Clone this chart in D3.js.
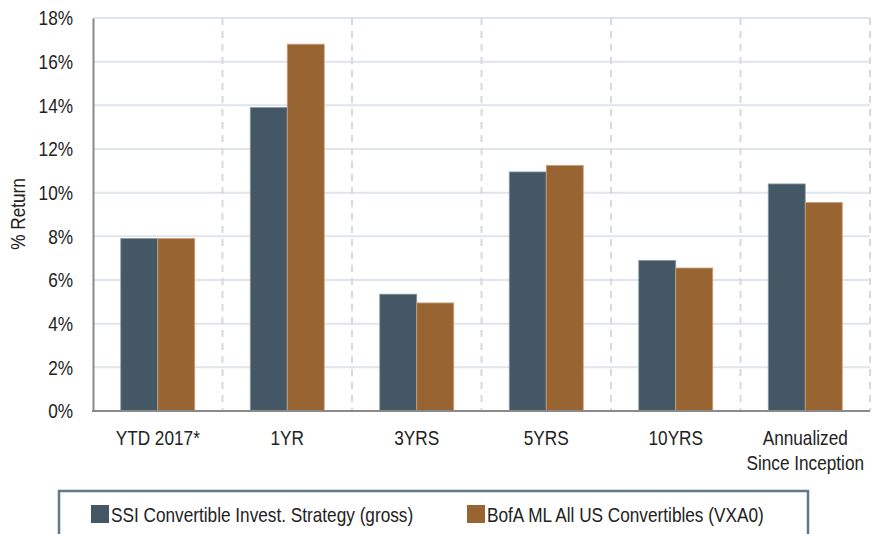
<!DOCTYPE html>
<html><head><meta charset="utf-8">
<script src="https://cdn.jsdelivr.net/npm/d3@7"></script>
<style>
body{margin:0;background:#fff;}
text{font-family:"Liberation Sans Narrow","Arial Narrow","Liberation Sans",sans-serif;fill:#222;}
</style></head>
<body>
<svg id="c" width="876" height="534"></svg>
<script>
const categories = [["YTD 2017*"],["1YR"],["3YRS"],["5YRS"],["10YRS"],["Annualized","Since Inception"]];
const seriesNames = ["SSI Convertible Invest. Strategy (gross)","BofA ML All US Convertibles (VXA0)"];
const ssiValues = [7.9, 13.9, 5.35, 10.95, 6.9, 10.4];
const bofaValues = [7.9, 16.8, 4.95, 11.25, 6.55, 9.55];
const yTicks = [0,2,4,6,8,10,12,14,16,18];
const colors = ["#435764","#986532"];

const SX = 0.82, FS = "21px";
const svg = d3.select("#c");
const m = {l:93, t:18, r:870, b:411};
const x = d3.scaleBand().domain(d3.range(categories.length)).range([m.l, m.r]).paddingInner(0).paddingOuter(0);
const y = d3.scaleLinear().domain([0,18]).range([m.b, m.t]);
const x1 = d3.scaleBand().domain([0,1]).range([0, x.bandwidth()]).paddingInner(0).paddingOuter(0.75);

function ntext(parent, px, py, anchor){
  return parent.append("g").attr("transform",`translate(${px},${py}) scale(${SX},1)`)
    .append("text").attr("text-anchor",anchor||"start").style("font-size",FS);
}

// gridlines
svg.append("g").selectAll("line").data(yTicks.slice(1)).join("line")
  .attr("x1", m.l).attr("x2", m.r).attr("y1", d=>y(d)).attr("y2", d=>y(d))
  .attr("stroke","#dfe5ea").attr("stroke-width",2);

// dashed separators
svg.append("g").selectAll("line").data(d3.range(1, categories.length+1)).join("line")
  .attr("x1", d=>x(0)+d*x.bandwidth()).attr("x2", d=>x(0)+d*x.bandwidth())
  .attr("y1", m.t).attr("y2", m.b)
  .attr("stroke","#d9d9d9").attr("stroke-width",2).attr("stroke-dasharray","7,6");

// bars
const series = [ssiValues, bofaValues];
series.forEach((vals, si) => {
  svg.append("g").selectAll("rect").data(vals).join("rect")
    .attr("x", (d,i)=>x(i)+x1(si))
    .attr("width", x1.bandwidth())
    .attr("y", d=>y(d))
    .attr("height", d=>y(0)-y(d))
    .attr("fill", colors[si])
    .attr("stroke", si===0 ? "#8d9ba5" : "#c9a27c").attr("stroke-width",0.8);
});

// axes
const yAxis = d3.axisLeft(y).tickValues(yTicks).tickFormat(d=>d+"%").tickSize(0).tickPadding(20/SX);
const gy = svg.append("g").attr("transform",`translate(${m.l},0)`).call(yAxis);
gy.select(".domain").attr("stroke","#8a8a8a").attr("stroke-width",2);
gy.selectAll("text").style("font-size",FS).attr("fill","#222")
  .attr("transform",`scale(${SX},1)`);

svg.append("line").attr("x1",m.l-1).attr("x2",m.r).attr("y1",m.b).attr("y2",m.b)
  .attr("stroke","#8a8a8a").attr("stroke-width",2);

// category labels
const xl = svg.append("g");
categories.forEach((lines,i)=>{
  const t = ntext(xl, x(i)+x.bandwidth()/2, 445, "middle");
  lines.forEach((ln,k)=>t.append("tspan").attr("x", 0).attr("dy", k===0?0:25).text(ln));
});

// y label
svg.append("g").attr("transform","translate(25,214) rotate(-90) scale(0.82,1)")
  .append("text").attr("text-anchor","middle").style("font-size",FS).text("% Return");

// legend
svg.append("rect").attr("x",59).attr("y",491).attr("width",749).attr("height",60)
  .attr("fill","none").attr("stroke","#5f7a89").attr("stroke-width",2.5);
const legX = [91, 467];
seriesNames.forEach((n,i)=>{
  svg.append("rect").attr("x",legX[i]).attr("y",505).attr("width",18).attr("height",18).attr("fill",colors[i]);
  ntext(svg, legX[i]+20, 522, "start").text(n);
});
</script>
</body></html>
